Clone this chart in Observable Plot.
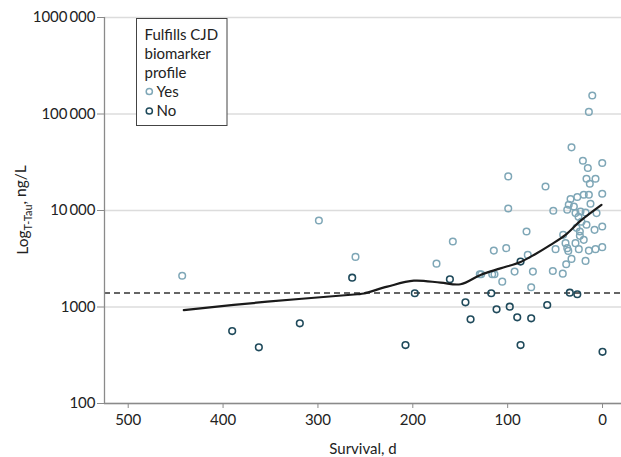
<!DOCTYPE html>
<html>
<head>
<meta charset="utf-8">
<script src="https://cdn.jsdelivr.net/npm/d3@7"></script>
<script src="https://cdn.jsdelivr.net/npm/@observablehq/plot@0.6"></script>
<style>
  html, body { margin: 0; padding: 0; background: #fff; }
  #chart { width: 621px; height: 457px; }
</style>
</head>
<body>
<div id="chart"></div>
<script>
// ---- Data ----
// Fulfills CJD biomarker profile: Yes
const yesSurvival = [443.1, 299.0, 260.4, 175.0, 157.8, 129.4, 127.9, 116.3, 113.9, 114.6,
  105.7, 101.5, 99.4, 99.4, 92.7, 80.1, 78.8, 73.4, 75.2, 60.1,
  51.9, 52.4, 49.5, 41.9, 41.5, 38.3, 32.7, 17.9, 37.2, 35.6,
  30.2, 33.7, 26.6, 19.8, 14.4, 12.7, 28.5, 23.2, 17.9, 6.3,
  25.3, 0.3, 32.7, 20.7, 0.3, 15.5, 16.9, 7.4, 13.4, 10.8,
  14.4, 23.9, 23.9, 8.4, 0.3, 39.0, 37.2, 28.5, 19.8, 25.0,
  14.4, 7.4, 0.3, 36.1, 22.2, 16.9, 27.4];
const yesTau = [2110, 7870, 3305, 2815, 4765, 2186, 2186, 2186, 2186, 3843,
  1832, 4071, 22550, 10490, 2326, 6053, 3467, 2326, 1602, 17750,
  9929, 2365, 3974, 2217, 5595, 2775, 3150, 3004, 10170, 11460,
  11000, 13130, 13780, 14550, 14550, 11740, 9397, 9763, 9530, 9397,
  8602, 14910, 45100, 32810, 31060, 27560, 21340, 21340, 18930, 155300,
  105150, 6053, 5460, 6304, 6820, 4587, 4071, 4587, 4963, 3974,
  3843, 3974, 4169, 3815, 7633, 7105, 6613];
// Fulfills CJD biomarker profile: No
const noSurvival = [390.4, 362.3, 319.1, 263.9, 207.7, 197.9, 160.9, 144.5, 139.1, 117.3,
  111.7, 97.8, 89.9, 86.4, 86.4, 75.2, 58.3, 34.5, 26.6, 0];
const noTau = [563, 382, 677, 2015, 403, 1388, 1940, 1119, 745, 1388,
  946, 1007, 782, 403, 2955, 763, 1049, 1408, 1355, 343];
// Smoothed (loess) curve
const curveSurvival = [441.4, 353.5, 258.6, 251.6, 226.9, 198.9, 170.7, 149.7, 128.6, 107.6, 86.4, 70.6, 54.8, 39.0, 23.3, 1.1];
const curveTau = [930, 1135, 1355, 1381, 1625, 1875, 1788, 1721, 2149, 2511, 2931, 3548, 4406, 5597, 7816, 11460];
// Cutoff (dashed line)
const cutoff = 1400;
// Axes
const xDomain = [525.0, -20.0];
const yDomain = [100, 1000000];
const xTicks = [500, 400, 300, 200, 100, 0];
const yTicks = [100, 1000, 10000, 100000, 1000000];
const yTickLabels = ["100", "1000", "10\u2009000", "100\u2009000", "1000\u2009000"];
const legendTitle = ["Fulfills CJD", "biomarker", "profile"];
const legendItems = ["Yes", "No"];
const colorYes = "#7fa7b7";
const colorNo = "#1f4a5b";

const yes = yesSurvival.map((s, i) => ({s, t: yesTau[i]}));
const no = noSurvival.map((s, i) => ({s, t: noTau[i]}));
const curve = curveSurvival.map((s, i) => ({s, t: curveTau[i]}));

const font = "Lato, 'Open Sans', sans-serif";

const plot = Plot.plot({
  width: 621,
  height: 457,
  marginLeft: 104,
  marginRight: 0,
  marginTop: 17,
  marginBottom: 54,
  style: {fontFamily: font, fontSize: "15px", color: "#222", background: "#fff", overflow: "visible"},
  x: {domain: xDomain},
  y: {type: "log", domain: yDomain},
  marks: [
    Plot.gridY(yTicks, {stroke: "#dcdcdc", strokeOpacity: 1, strokeWidth: 1.6}),
    Plot.ruleY([cutoff], {stroke: "#333", strokeWidth: 1.5, strokeDasharray: "6,4"}),
    Plot.ruleX([xDomain[0]], {stroke: "#8a8a8a", strokeWidth: 1.3}),
    Plot.ruleY([yDomain[0]], {stroke: "#8a8a8a", strokeWidth: 1.3}),
    Plot.axisX(xTicks, {tickSize: 5, tickPadding: 6, stroke: "#8a8a8a", fill: "#222",
      label: "Survival, d", labelAnchor: "center", labelArrow: "none", labelOffset: 50}),
    Plot.axisY(yTicks, {tickSize: 7, tickPadding: 2, stroke: "#8a8a8a", fill: "#222",
      tickFormat: d => yTickLabels[yTicks.indexOf(d)], label: null}),
    Plot.dot(yes, {x: "s", y: "t", r: 3.3, stroke: colorYes, strokeWidth: 1.5, fill: "none"}),
    Plot.dot(no, {x: "s", y: "t", r: 3.3, stroke: colorNo, strokeWidth: 1.6, fill: "none"}),
    Plot.line(curve, {x: "s", y: "t", curve: "catmull-rom", stroke: "#1a1a1a", strokeWidth: 2.2})
  ]
});

const svg = d3.select(plot);

// Y axis title with subscript
const yt = svg.append("text")
  .attr("transform", "translate(28,210) rotate(-90)")
  .attr("text-anchor", "middle")
  .attr("font-family", font)
  .attr("font-size", 15.5)
  .attr("fill", "#222");
yt.append("tspan").text("Log");
yt.append("tspan").attr("font-size", 11).attr("dy", "0.35em").text("T-Tau");
yt.append("tspan").attr("dy", "-0.35em").text(", ng/L");

// Legend box
const lg = svg.append("g").attr("font-family", font).attr("font-size", 15).attr("fill", "#222")
  .attr("text-anchor", "start");
lg.append("rect").attr("x", 136.5).attr("y", 18.5).attr("width", 90.5).attr("height", 107)
  .attr("fill", "#fff").attr("stroke", "#444").attr("stroke-width", 1);
legendTitle.forEach((t, i) => {
  lg.append("text").attr("text-anchor", "start").attr("x", 144.5).attr("y", 39.5 + i * 19).text(t);
});
legendItems.forEach((t, i) => {
  const y = 96.5 + i * 19.5;
  lg.append("circle").attr("cx", 149.3).attr("cy", y - 5).attr("r", 3.1)
    .attr("fill", "none").attr("stroke", i === 0 ? colorYes : colorNo).attr("stroke-width", 1.5);
  lg.append("text").attr("text-anchor", "start").attr("x", 156.5).attr("y", y).text(t);
});

document.getElementById("chart").appendChild(plot);
</script>
</body>
</html>
